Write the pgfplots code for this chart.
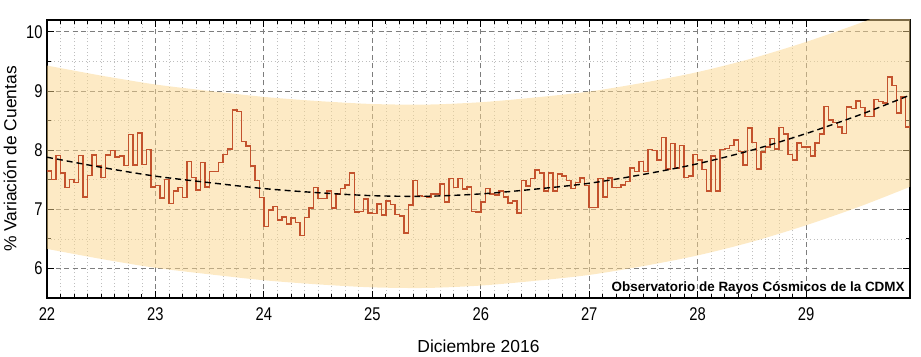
\documentclass[border=0pt]{standalone}
\usepackage{fontspec}
\setmainfont{Liberation Sans}
\newfontfamily\narrowfont{Liberation Sans}[FakeStretch=0.8]
\usepackage{pgfplots}
\pgfplotsset{compat=1.18}
\usepgfplotslibrary{fillbetween}
\usepackage{pgfplotstable}
\definecolor{linec}{RGB}{195,82,45}
\definecolor{bandc}{RGB}{251,214,140}
\definecolor{majgrid}{RGB}{125,125,125}
\definecolor{mingrid}{RGB}{190,190,190}

\pgfplotstableread{
h v
0 7.65
1 7.50
2 7.91
3 7.61
4 7.37
5 7.50
6 7.45
7 7.91
8 7.21
9 7.57
10 7.92
11 7.73
12 7.54
13 7.92
14 7.99
15 7.88
16 7.90
17 7.74
18 8.26
19 7.75
20 8.29
21 7.76
22 8.01
23 7.38
24 7.40
25 7.19
26 7.50
27 7.10
28 7.31
29 7.37
30 7.20
31 7.81
32 7.54
33 7.33
34 7.79
35 7.38
36 7.64
37 7.64
38 7.79
39 7.93
40 8.02
41 8.68
42 8.65
43 8.15
44 8.07
45 7.73
46 7.49
47 7.20
48 6.71
49 6.99
50 7.05
51 6.82
52 6.87
53 6.75
54 6.85
55 6.78
56 6.56
57 6.86
58 7.02
59 7.37
60 7.18
61 7.18
62 7.31
63 7.02
64 7.26
65 7.35
66 7.41
67 7.61
68 6.95
69 6.96
70 7.17
71 6.94
72 6.93
73 7.09
74 6.90
75 7.14
76 7.08
77 6.91
78 6.89
79 6.60
80 7.07
81 7.49
82 7.23
83 7.22
84 7.21
85 7.26
86 7.26
87 7.43
88 7.12
89 7.52
90 7.37
91 7.52
92 7.34
93 7.38
94 6.96
95 6.95
96 7.12
97 7.35
98 7.26
99 7.24
100 7.31
101 7.21
102 7.11
103 7.14
104 6.94
105 7.49
106 7.39
107 7.52
108 7.66
109 7.61
110 7.31
111 7.61
112 7.31
113 7.60
114 7.56
115 7.49
116 7.35
117 7.45
118 7.53
119 7.40
120 7.03
121 7.03
122 7.52
123 7.21
124 7.53
125 7.37
126 7.37
127 7.41
128 7.47
129 7.70
130 7.64
131 7.81
132 7.64
133 8.01
134 7.99
135 7.83
136 8.21
137 7.68
138 8.11
139 7.70
140 8.08
141 7.54
142 7.56
143 7.93
144 7.83
145 7.67
146 7.31
147 7.90
148 7.31
149 8.01
150 8.03
151 8.08
152 8.17
153 7.98
154 7.75
155 8.37
156 8.13
157 7.68
158 7.97
159 8.05
160 8.20
161 8.02
162 8.38
163 8.27
164 7.93
165 7.83
166 8.12
167 8.05
168 8.05
169 7.90
170 8.12
171 8.27
172 8.74
173 8.51
174 8.47
175 8.39
176 8.28
177 8.73
178 8.70
179 8.83
180 8.72
181 8.57
182 8.57
183 8.86
184 8.82
185 8.80
186 9.24
187 9.09
188 8.63
189 8.90
190 8.39
191 8.39
}\datatable

\pgfplotstableread{
x f u l
22.0 7.88 9.43 6.33
22.5 7.71 9.26 6.16
23.0 7.56 9.11 6.01
23.5 7.45 9.00 5.90
24.0 7.35 8.90 5.80
24.5 7.28 8.83 5.73
25.0 7.23 8.78 5.68
25.5 7.22 8.77 5.67
26.0 7.26 8.81 5.71
26.5 7.34 8.89 5.79
27.0 7.44 8.99 5.89
27.5 7.59 9.14 6.04
28.0 7.77 9.32 6.22
28.5 8.00 9.55 6.45
29.0 8.28 9.83 6.73
29.5 8.60 10.15 7.05
29.9583 8.93 10.48 7.38
}\fittable

\begin{document}
\begin{tikzpicture}
\begin{axis}[name=ax, scale only axis, width=863bp, height=278bp,
  xmin=22, xmax=29.9583, ymin=5.5, ymax=10.2,
  xtick={22,23,24,25,26,27,28,29}, ytick={6,7,8,9,10},
  minor x tick num=7, minor y tick num=1,
  grid=both,
  major grid style={majgrid, dash pattern=on 5bp off 3.5bp, line width=0.9bp},
  minor grid style={mingrid, dash pattern=on 1bp off 2.5bp, line width=0.7bp},
  tick align=inside, major tick length=7bp, minor tick length=4bp,
  every tick/.style={black, line width=0.9bp},
  axis line style={line width=1.2bp},
  /pgf/number format/assume math mode=true,
  ticklabel style={font=\narrowfont\fontsize{18.5}{18.5}\selectfont},
  xticklabel style={yshift=-6bp},
  yticklabel style={xshift=-1bp},
  xlabel={Diciembre 2016},
  ylabel={\% Variación de Cuentas},
  xlabel style={font=\fontsize{17.5}{17.5}\selectfont, at={(axis description cs:0.5,-0.172)}, anchor=center},
  ylabel style={font=\fontsize{17.5}{17.5}\selectfont, at={(axis description cs:-0.0429,0.5)}, anchor=center},
]
\addplot[draw=none, name path=U, smooth, forget plot] table[x=x, y=u] {\fittable};
\addplot[draw=none, name path=L, smooth, forget plot] table[x=x, y=l] {\fittable};
\addplot[bandc, fill opacity=0.5, draw=none] fill between[of=U and L];
\addplot[const plot mark left, linec, line width=1.5bp] table[x expr=22+\thisrow{h}/24, y=v] {\datatable};
\addplot[black, line width=1.4bp, dash pattern=on 6bp off 4bp, smooth] table[x=x, y=f] {\fittable};
\node[anchor=base east, inner sep=0pt, font=\bfseries\fontsize{13.5}{13.5}\selectfont] at (rel axis cs:0.994,0.025) {Observatorio de Rayos Cósmicos de la CDMX};
\end{axis}
\pgfresetboundingbox
\path[use as bounding box] ([shift={(-47bp,-59bp)}]ax.south west) rectangle ([shift={(11bp,20bp)}]ax.north east);
\end{tikzpicture}
\end{document}
